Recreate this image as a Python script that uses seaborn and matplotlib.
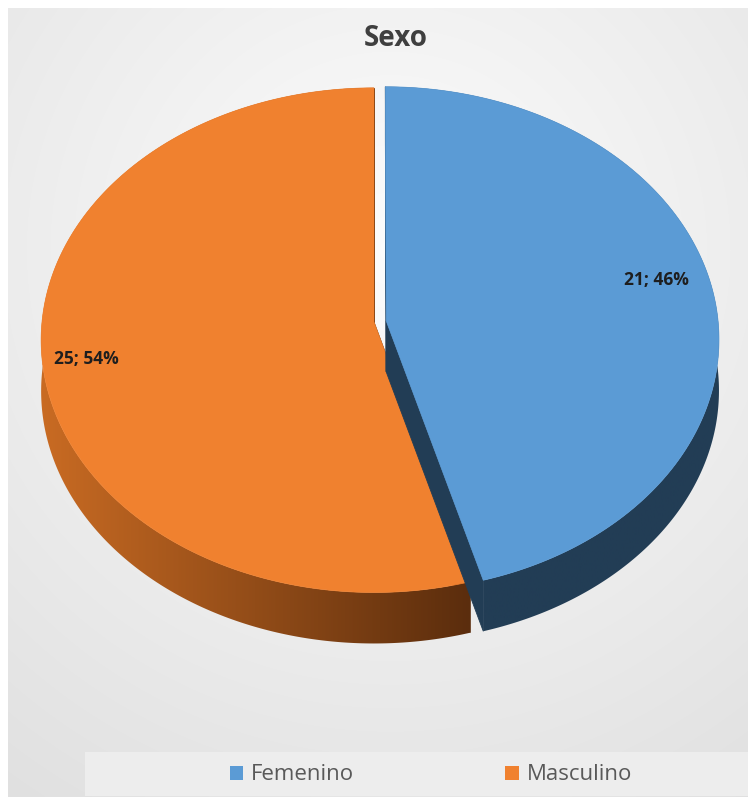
import numpy as np
import matplotlib
matplotlib.use("Agg")
import matplotlib.pyplot as plt
from matplotlib.patches import Polygon, Rectangle, Patch
from matplotlib.colors import to_rgb
import seaborn as sns

# Data
categories = ["Femenino", "Masculino"]
counts = [21, 25]
title = "Sexo"

sns.set_theme(style="white")
plt.rcParams["font.family"] = ["Open Sans", "DejaVu Sans"]

top_colors = sns.color_palette(["#5b9bd5", "#f0812f"])
rim_colors = [("#223d55", "#223d55"), ("#c96b23", "#5b2d0d")]
explode = [0.037, 0.0]

W, H = 748, 802
fig = plt.figure(figsize=(W / 100, H / 100), dpi=100)
ax = fig.add_axes([0, 0, 1, 1])

# Chart-area background: soft radial grey gradient
x0, x1, y0, y1 = 8, W, 8, 797
yy, xx = np.mgrid[y0:y1, x0:x1]
r = np.hypot(xx - 390, yy - 250) / 600
shade = np.clip(0.99 - 0.10 * r, 0.86, 1.0)
ax.imshow(np.dstack([shade] * 3), extent=(x0, x1, y1, y0), zorder=0,
          aspect="auto", interpolation="bilinear")

# Legend band
ax.add_patch(Rectangle((85, 752), W - 85, 44, facecolor="#ededed",
                       edgecolor="none", zorder=1))

# Tilted-disc projection for the 3-D pie
CX, CY = 374, 322
A, B, K = 332, 251.0, 0.072
DEPTH = 51


def proj(u, v):
    d = 1 + K * v
    return CX + A * u / d, CY - B * v / d


total = sum(counts)
fracs = [c / total for c in counts]
starts, ends = [], []
ang = 90.0
for f in fracs:
    starts.append(ang)
    ang -= 360 * f
    ends.append(ang)

label_nudge = [(-4, -12), (-9, 8)]

# back slice first, then the exploded front-right slice
for i in [1, 0]:
    a0, a1 = starts[i], ends[i]
    mid = np.radians((a0 + a1) / 2)
    ou, ov = explode[i] * np.cos(mid), explode[i] * np.sin(mid)
    th = np.radians(np.linspace(a0, a1, 300))
    au, av = ou + np.cos(th), ov + np.sin(th)
    ax_, ay_ = proj(au, av)
    vx, vy = proj(ou, ov)

    zc = 2 + (1 - i) * 3
    dark = rim_colors[i][1]
    # radial cut faces
    for ex, ey in [(ax_[0], ay_[0]), (ax_[-1], ay_[-1])]:
        quad = [(vx, vy), (ex, ey), (ex, ey + DEPTH), (vx, vy + DEPTH)]
        ax.add_patch(Polygon(quad, closed=True, facecolor=dark,
                             edgecolor=dark, lw=0.6, zorder=zc))
    # outer rim, shaded left-to-right through a clipped gradient
    rim_pts = list(zip(ax_, ay_)) + list(zip(ax_[::-1], ay_[::-1] + DEPTH))
    rim = Polygon(rim_pts, closed=True, facecolor="none", edgecolor="none")
    ax.add_patch(rim)
    gx = np.linspace(0, 1, 256)
    t = np.clip((gx * W - 40) / 430, 0, 1)[None, :]
    c0, c1 = np.array(to_rgb(rim_colors[i][0])), np.array(to_rgb(dark))
    grad = c0[None, None, :] + (c1 - c0)[None, None, :] * t[..., None]
    grad = np.repeat(grad, 2, axis=0)
    im = ax.imshow(grad, extent=(0, W, H, 0), aspect="auto",
                   interpolation="bilinear", zorder=zc + 0.5)
    im.set_clip_path(rim)
    # top face
    pts = [(vx, vy)] + list(zip(ax_, ay_))
    ax.add_patch(Polygon(pts, closed=True, facecolor=top_colors[i],
                         edgecolor=top_colors[i], lw=0.5, zorder=zc + 1))

    # data label
    lr = 0.84
    lx, ly = proj(ou + lr * np.cos(mid), ov + lr * np.sin(mid))
    pct = 100 * fracs[i]
    ax.text(lx + label_nudge[i][0], ly + label_nudge[i][1],
            f"{counts[i]}; {pct:.0f}%", ha="center", va="center",
            fontsize=12.5, fontweight="bold", color="#1e1e1e", zorder=10)

ax.text(396, 39, title, ha="center", va="center", fontsize=20,
        fontweight="bold", color="#3f3f3f", zorder=10)

handles = [Patch(facecolor=top_colors[k], edgecolor="none") for k in range(len(categories))]
fig.legend(handles, categories, loc="center", bbox_to_anchor=(431 / W, 1 - 775 / H),
           ncol=2, frameon=False, fontsize=16, handlelength=0.6, handleheight=0.6,
           handletextpad=0.35, columnspacing=6.8, labelcolor="#595959")

ax.set_xlim(0, W)
ax.set_ylim(H, 0)
ax.axis("off")
fig.savefig("out.png", dpi=100, facecolor="white")
